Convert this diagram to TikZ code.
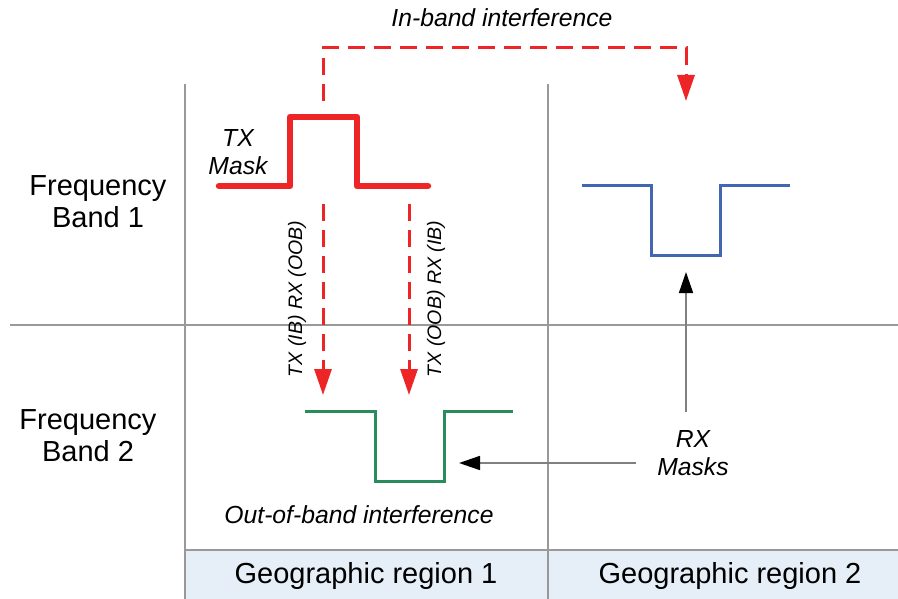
\documentclass[tikz,border=0pt]{standalone}
\usepackage{fontspec}
\setmainfont{Liberation Sans}
\usetikzlibrary{arrows.meta}
\definecolor{txred}{HTML}{EE2526}
\definecolor{rxblue}{HTML}{4466B0}
\definecolor{rxgreen}{HTML}{2A8C5C}
\definecolor{gridgray}{HTML}{999999}
\definecolor{bandfill}{HTML}{E6EEF7}
\tikzset{
  gridline/.style={draw=gridgray, line width=1.4pt},
  txmask/.style={draw=txred, line width=6.5pt, line cap=round, line join=round},
  rxmask/.style={line width=3pt},
  interf/.style={draw=txred, line width=3pt, dash pattern=on 17pt off 9pt, -{Triangle[length=26pt,width=17pt]}},
  pointer/.style={draw=gray, line width=1.6pt, -{Triangle[length=21pt,width=14pt,color=black]}},
  biglabel/.style={font=\fontsize{29}{32}\selectfont, align=center, inner sep=0pt},
  itlabel/.style={font=\fontsize{24.7}{28}\selectfont\itshape, align=center, inner sep=0pt},
  rotlabel/.style={font=\fontsize{19.5}{22}\selectfont\itshape, rotate=90, inner sep=0pt},
}
\begin{document}
\begin{tikzpicture}[x=1pt,y=-1pt]
\useasboundingbox (0,0) rectangle (898,599);
% bottom band
\fill[bandfill] (185,550) rectangle (898,599);
\draw[gridline] (185,550) -- (898,550);
\draw[gridline] (185,84) -- (185,599);
\draw[gridline] (548,84) -- (548,599);
\draw[gridline] (10,325) -- (898,325);
% labels
\node[biglabel] (fb1) at (98,202) {Frequency\\Band 1};
\node[biglabel] (fb2) at (88,436) {Frequency\\Band 2};
\node[biglabel] (gr1) at (366,576) {Geographic region 1};
\node[biglabel] (gr2) at (730,576) {Geographic region 2};
\node[itlabel] (ib) at (502,18) {In-band interference};
\node[itlabel] (oob) at (359,515) {Out-of-band interference};
\node[itlabel] (txl) at (238,152) {TX\\Mask};
\node[itlabel] (rxl) at (693,453) {RX\\Masks};
\node[rotlabel] (l1) at (297,299) {TX (IB) RX (OOB)};
\node[rotlabel] (l2) at (436,299) {TX (OOB) RX (IB)};
% masks
\draw[txmask] (219,186) -- (290,186) -- (290,117) -- (357,117) -- (357,186) -- (428,186);
\draw[rxmask, draw=rxblue] (582,186) -- (651,186) -- (651,256) -- (720,256) -- (720,186) -- (790,186);
\draw[rxmask, draw=rxgreen] (305,411) -- (375,411) -- (375,481) -- (444,481) -- (444,411) -- (513,411);
% interference arrows
\coordinate (ibs) at (323,101);
\coordinate (ibe) at (686,101);
\draw[interf] (ibs) -- (323,48) -- (686,48) -- (ibe);
\coordinate (a1s) at (323,204);
\coordinate (a1e) at (323,395);
\coordinate (a2s) at (409,204);
\coordinate (a2e) at (409,395);
\draw[interf] (a1s) -- (a1e);
\draw[interf] (a2s) -- (a2e);
% pointers
\coordinate (p1s) at (686,412);
\coordinate (p1e) at (686,272);
\coordinate (p2s) at (636,463);
\coordinate (p2e) at (459,463);
\draw[pointer] (p1s) -- (p1e);
\draw[pointer] (p2s) -- (p2e);
\end{tikzpicture}
\end{document}
